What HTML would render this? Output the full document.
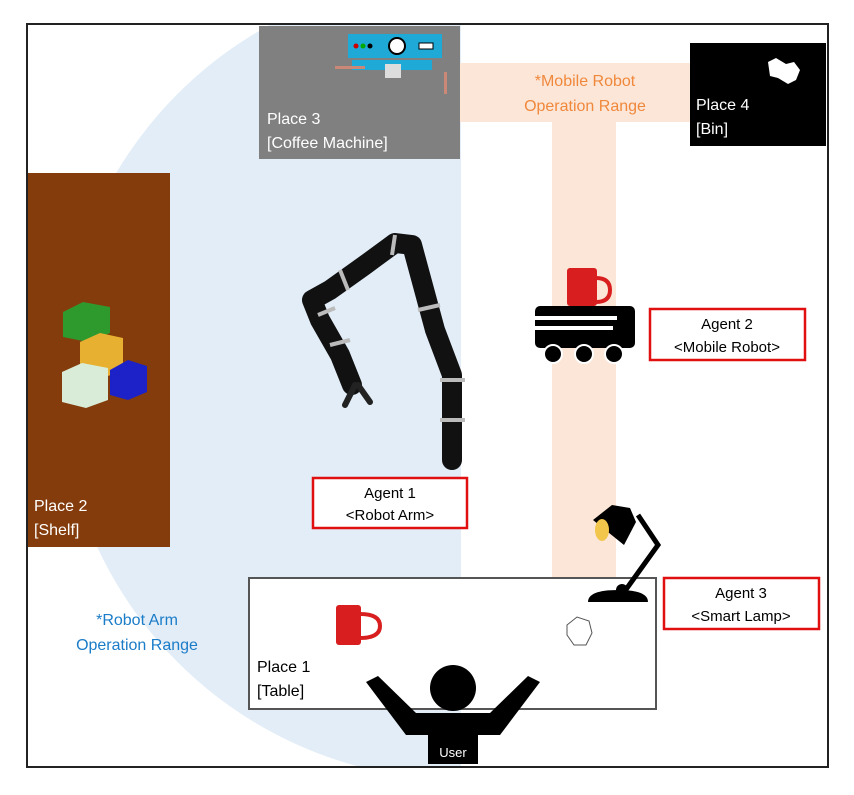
<!DOCTYPE html>
<html><head><meta charset="utf-8"><style>
body{margin:0;background:#fff}
svg text{font-family:"Liberation Sans",sans-serif}
</style></head><body>
<svg width="854" height="790" viewBox="0 0 854 790" xmlns="http://www.w3.org/2000/svg">
<defs><clipPath id="c"><rect x="28" y="25" width="433" height="742"/></clipPath></defs>
<rect width="854" height="790" fill="#fff"/>
<circle cx="462" cy="378" r="402" fill="#e2edf7" clip-path="url(#c)"/>
<rect x="460" y="63" width="230" height="59" fill="#fce6d8"/>
<rect x="552" y="122" width="64" height="455" fill="#fce6d8"/>
<text x="585" y="86" fill="#f0883c" font-size="16" text-anchor="middle">*Mobile Robot</text>
<text x="585" y="111" fill="#f0883c" font-size="16" text-anchor="middle">Operation Range</text>
<rect x="259" y="26" width="201" height="133" fill="#808080"/>
<rect x="348" y="34" width="94" height="24" fill="#1fa9d6"/>
<circle cx="397" cy="46" r="8" fill="#fff" stroke="#000" stroke-width="2"/>
<circle cx="356" cy="46" r="2.5" fill="#c00"/><circle cx="363" cy="46" r="2.5" fill="#0a0"/><circle cx="370" cy="46" r="2.5" fill="#000"/>
<rect x="419" y="43" width="14" height="6" fill="#fff" stroke="#000"/>
<rect x="352" y="60" width="80" height="10" fill="#1fa9d6"/>
<rect x="385" y="64" width="16" height="14" fill="#ddd"/>
<rect x="335" y="66" width="30" height="3" fill="#c87"/>
<rect x="444" y="72" width="3" height="22" fill="#c87"/>
<text x="267" y="124" fill="#fff" font-size="16">Place 3</text>
<text x="267" y="148" fill="#fff" font-size="16">[Coffee Machine]</text>
<rect x="690" y="43" width="136" height="103" fill="#000"/>
<path d="M768 62 l8 -4 l10 6 l8 -2 l6 8 l-4 10 l-8 4 l-10 -6 l-8 -2 z" fill="#fff"/>
<text x="696" y="110" fill="#fff" font-size="16">Place 4</text>
<text x="696" y="134" fill="#fff" font-size="16">[Bin]</text>
<rect x="28" y="173" width="142" height="374" fill="#843c0c"/>
<polygon points="63,312 83,302 110,307 110,333 88,342 63,337" fill="#2e9a2e"/>
<polygon points="80,342 100,333 123,338 123,370 103,378 80,373" fill="#e8b030"/>
<polygon points="110,370 128,360 147,366 147,392 128,400 110,395" fill="#1c22c8"/>
<polygon points="62,372 82,363 108,368 108,400 86,408 62,402" fill="#d8ecd8"/>
<text x="34" y="511" fill="#fff" font-size="16">Place 2</text>
<text x="34" y="535" fill="#fff" font-size="16">[Shelf]</text>
<rect x="27" y="24" width="801" height="743" fill="none" stroke="#222" stroke-width="2"/>
<g fill="none" stroke-linecap="round" stroke-linejoin="round">
<path d="M452 460 L452 375 L435 330 L412 245 L395 243 L365 265 L330 290 L312 300 L320 320 L340 355 L352 385" stroke="#111" stroke-width="20"/>
<path d="M355 385 L345 405 M358 385 L370 402" stroke="#222" stroke-width="6"/>
</g>
<g stroke="#bbb" stroke-width="4">
<line x1="440" y1="380" x2="465" y2="380"/><line x1="440" y1="420" x2="465" y2="420"/>
<line x1="418" y1="310" x2="440" y2="305"/><line x1="395" y1="235" x2="392" y2="255"/>
<line x1="340" y1="270" x2="348" y2="290"/><line x1="318" y1="315" x2="335" y2="308"/><line x1="330" y1="345" x2="350" y2="340"/>
</g>
<rect x="313" y="478" width="154" height="50" fill="#fff" stroke="#e01010" stroke-width="2.5"/>
<text x="390" y="498" font-size="15" text-anchor="middle">Agent 1</text>
<text x="390" y="520" font-size="15" text-anchor="middle">&lt;Robot Arm&gt;</text>
<rect x="650" y="309" width="155" height="51" fill="#fff" stroke="#e01010" stroke-width="2.5"/>
<text x="727" y="329" font-size="15" text-anchor="middle">Agent 2</text>
<text x="727" y="352" font-size="15" text-anchor="middle">&lt;Mobile Robot&gt;</text>
<rect x="664" y="578" width="155" height="51" fill="#fff" stroke="#e01010" stroke-width="2.5"/>
<text x="741" y="598" font-size="15" text-anchor="middle">Agent 3</text>
<text x="741" y="621" font-size="15" text-anchor="middle">&lt;Smart Lamp&gt;</text>
<rect x="567" y="268" width="30" height="38" rx="3" fill="#d81e1e"/>
<path d="M596 278 q14 0 14 12 q0 12 -14 12" fill="none" stroke="#d81e1e" stroke-width="4"/>
<rect x="535" y="306" width="100" height="42" rx="5" fill="#000"/>
<rect x="535" y="316" width="82" height="4" fill="#fff"/><rect x="535" y="326" width="78" height="4" fill="#fff"/>
<circle cx="553" cy="354" r="9" fill="#000" stroke="#fff" stroke-width="2"/>
<circle cx="584" cy="354" r="9" fill="#000" stroke="#fff" stroke-width="2"/>
<circle cx="614" cy="354" r="9" fill="#000" stroke="#fff" stroke-width="2"/>
<rect x="249" y="578" width="407" height="131" fill="#fff" stroke="#555" stroke-width="2"/>
<!-- lamp -->
<path d="M593 520 L612 505 L630 508 L636 522 L624 545 Z" fill="#000"/>
<ellipse cx="602" cy="530" rx="7" ry="11" fill="#f2c64a"/>
<path d="M638 515 L658 545 L622 595" stroke="#000" stroke-width="5" fill="none"/>
<circle cx="622" cy="590" r="6" fill="#000"/>
<path d="M588 602 q0 -12 30 -12 q30 0 30 12 z" fill="#000"/>
<rect x="336" y="605" width="25" height="40" rx="3" fill="#d81e1e"/>
<path d="M360 614 q20 0 20 12 q0 12 -20 12" fill="none" stroke="#d81e1e" stroke-width="4"/>
<path d="M567 625 l10 -8 l12 4 l3 12 l-6 12 l-12 0 l-7 -10 z" fill="#fff" stroke="#555"/>
<text x="257" y="672" font-size="16">Place 1</text>
<text x="257" y="696" font-size="16">[Table]</text>
<text x="137" y="625" fill="#1b7cc8" font-size="16" text-anchor="middle">*Robot Arm</text>
<text x="137" y="650" fill="#1b7cc8" font-size="16" text-anchor="middle">Operation Range</text>
<circle cx="453" cy="688" r="23" fill="#000"/>
<path d="M366 682 L378 676 L416 713 L490 713 L528 676 L540 682 L500 735 L478 735 L478 764 L428 764 L428 735 L406 735 Z" fill="#000"/>
<text x="453" y="757" fill="#fff" font-size="13" text-anchor="middle">User</text>
</svg>
</body></html>
